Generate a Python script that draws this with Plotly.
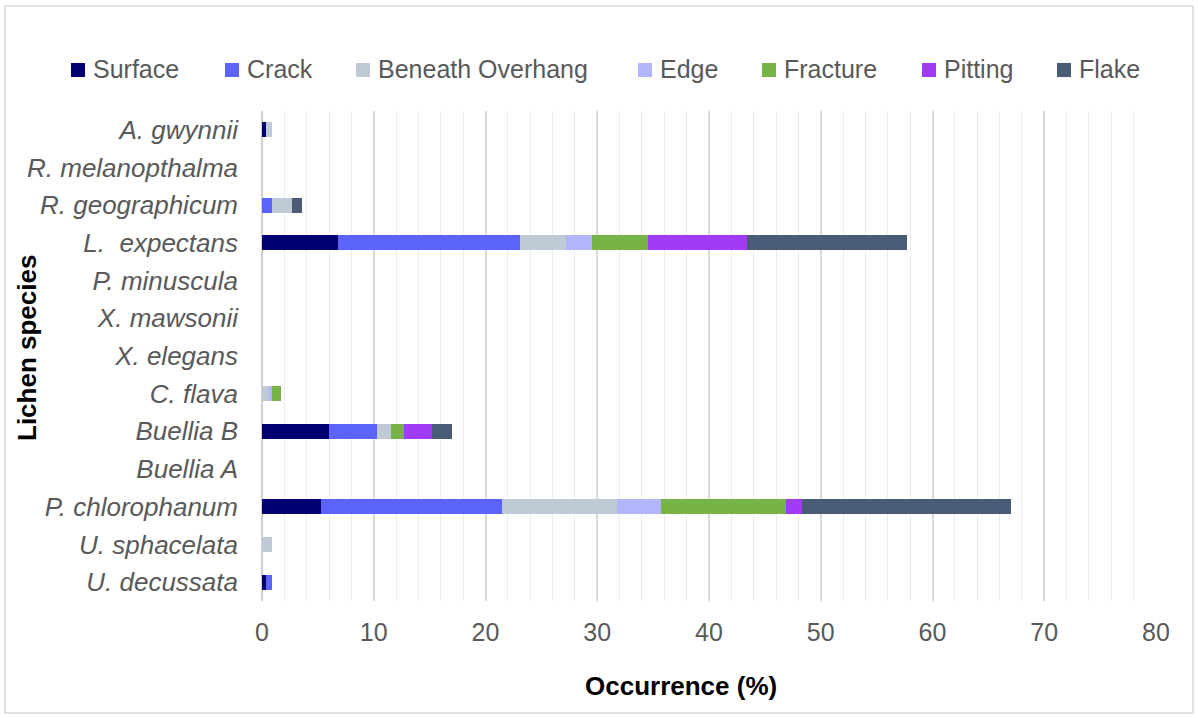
import plotly.graph_objects as go

species = ["A. gwynnii", "R. melanopthalma", "R. geographicum", "L.\u00a0 expectans",
           "P. minuscula", "X. mawsonii", "X. elegans", "C. flava", "Buellia B",
           "Buellia A", "P. chlorophanum", "U. sphacelata", "U. decussata"]

surface  = [0.4, 0, 0,    6.8,  0, 0, 0, 0,    6.0,  0, 5.3,  0,   0.4]
crack    = [0,   0, 0.9,  16.3, 0, 0, 0, 0,    4.3,  0, 16.2, 0,   0.45]
beneath  = [0.45,0, 1.75, 4.1,  0, 0, 0, 0.65, 1.2,  0, 10.3, 0.86, 0]
edge     = [0,   0, 0,    2.3,  0, 0, 0, 0.27, 0,    0, 3.9,  0,   0]
fracture = [0,   0, 0,    5.0,  0, 0, 0, 0.8,  1.25, 0, 11.2, 0,   0]
pitting  = [0,   0, 0,    8.9,  0, 0, 0, 0,    2.5,  0, 1.4,  0,   0]
flake    = [0,   0, 0.95, 14.3, 0, 0, 0, 0,    1.75, 0, 18.7, 0,   0]

series_names = ["Surface", "Crack", "Beneath Overhang", "Edge", "Fracture", "Pitting", "Flake"]
series_values = [surface, crack, beneath, edge, fracture, pitting, flake]
series_colors = ["#000070", "#5b63fb", "#c0cad6", "#b3b5fb", "#77b347", "#a23bf5", "#4a5b75"]

W, H = 1198, 718
L, R, T, B = 262, 1156, 111, 601

def px(x):
    return (x - L) / (R - L)

def py(y):
    return (B - y) / (B - T)

fig = go.Figure()
for name, vals, col in zip(series_names, series_values, series_colors):
    fig.add_trace(go.Bar(
        y=species, x=vals, name=name, orientation="h",
        marker=dict(color=col, line=dict(width=0)), width=0.4,
        showlegend=False,
    ))

# legend drawn as squares + labels (pixel layout of the reference legend row)
legend_left = [71, 225, 356, 638, 762, 922, 1057]
legend_cy = 70
annotations = []
shapes = []
for name, col, lx in zip(series_names, series_colors, legend_left):
    shapes.append(dict(type="rect", xref="paper", yref="paper",
                       x0=px(lx), x1=px(lx + 14), y0=py(legend_cy + 7), y1=py(legend_cy - 7),
                       fillcolor=col, line=dict(width=0)))
    annotations.append(dict(text=name, xref="paper", yref="paper",
                            x=px(lx + 20), y=py(legend_cy - 1), xanchor="left", yanchor="middle",
                            showarrow=False, font=dict(size=25, color="#595959")))

annotations += [
    dict(text="<b>Occurrence (%)</b>", xref="paper", yref="paper",
         x=px(681), y=py(686), xanchor="center", yanchor="middle",
         showarrow=False, font=dict(size=26, color="#000000")),
    dict(text="<b>Lichen species</b>", xref="paper", yref="paper",
         x=px(27), y=py(348), xanchor="center", yanchor="middle",
         textangle=-90, showarrow=False, font=dict(size=26, color="#000000")),
]
shapes.append(dict(type="rect", xref="paper", yref="paper",
                   x0=px(5), x1=px(1193), y0=py(713), y1=py(6),
                   line=dict(color="#d9d9d9", width=1.5), fillcolor="rgba(0,0,0,0)",
                   layer="below"))

fig.update_layout(
    barmode="stack",
    width=W, height=H,
    margin=dict(l=L, r=W - R, t=T, b=H - B),
    paper_bgcolor="white", plot_bgcolor="white",
    font=dict(family="Liberation Sans, Arial, sans-serif", color="#595959"),
    showlegend=False,
    xaxis=dict(range=[0, 80], dtick=10, showgrid=True, gridcolor="#d9d9d9", gridwidth=1.5,
               minor=dict(dtick=2, showgrid=True, gridcolor="#ececec", gridwidth=1),
               tickfont=dict(size=25, color="#595959"), zeroline=True,
               zerolinecolor="#d0d0d0", zerolinewidth=1.5, showline=False,
               ticks="", ticklabelstandoff=14, fixedrange=True),
    yaxis=dict(categoryorder="array", categoryarray=species, autorange="reversed",
               tickfont=dict(size=26, color="#595959", style="italic"),
               showgrid=False, ticks="", ticklabelstandoff=23, fixedrange=True,
               automargin=False),
    annotations=annotations,
    shapes=shapes,
)

fig.write_html("out.html", config={"displayModeBar": False},
               post_script="document.body.style.margin='0';")
